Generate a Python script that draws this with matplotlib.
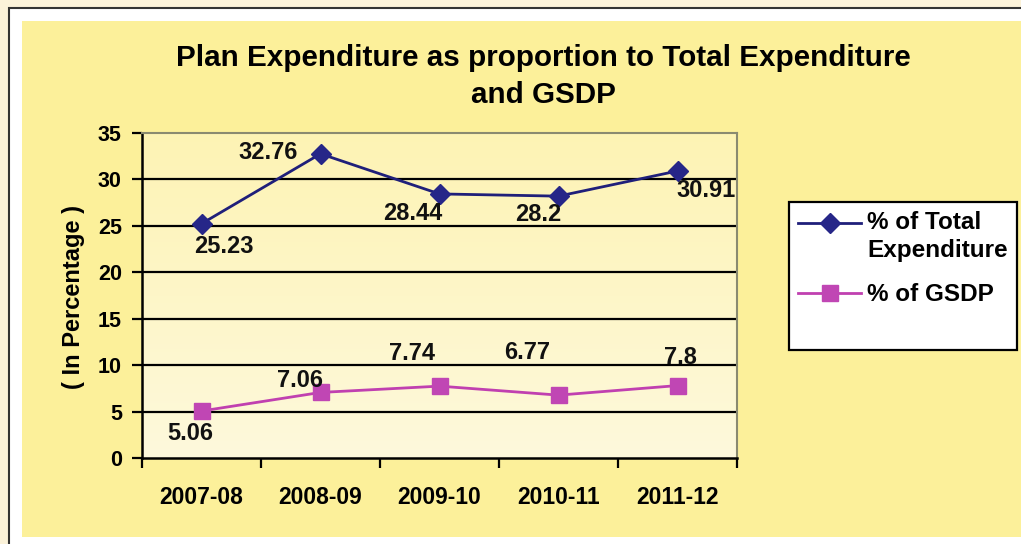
import numpy as np
import matplotlib.pyplot as plt
from matplotlib.patches import Rectangle
from matplotlib.colors import LinearSegmentedColormap
from matplotlib.transforms import Affine2D

plt.rcParams['font.family'] = ['Liberation Sans', 'DejaVu Sans']
plt.rcParams['font.weight'] = 'bold'

years = ["2007-08", "2008-09", "2009-10", "2010-11", "2011-12"]
total_exp = [25.23, 32.76, 28.44, 28.2, 30.91]
gsdp = [5.06, 7.06, 7.74, 6.77, 7.8]
total_labels = ["25.23", "32.76", "28.44", "28.2", "30.91"]
gsdp_labels = ["5.06", "7.06", "7.74", "6.77", "7.8"]

# label offsets in pixels, relative to each point
total_off = [(22, -23), (-52, 1), (-27, -20), (-20, -18), (29, -20)]
gsdp_off = [(-11, -22), (-20, 12), (-27, 33), (-31, 43), (3, 28)]

W, H = 1021, 544
fig = plt.figure(figsize=(W / 100, H / 100), dpi=100)
fig.patch.set_facecolor("#fbf2d9")

# white frame and yellow chart area
fig.patches.append(Rectangle((9 / W, -0.05), 1.1, 1 - 8 / H + 0.05, transform=fig.transFigure,
                             facecolor="white", edgecolor="#333333", linewidth=1.5, zorder=-10))
fig.patches.append(Rectangle((22 / W, 1 - 537 / H), 1.0, (537 - 21) / H, transform=fig.transFigure,
                             facecolor="#fcf09a", edgecolor="none", zorder=-9))
# legend box
fig.patches.append(Rectangle((789 / W, 1 - 350 / H), (1017 - 789) / W, (350 - 202) / H,
                             transform=fig.transFigure, facecolor="white", edgecolor="black",
                             linewidth=1.6, zorder=-5))

ax = fig.add_axes([142 / W, 1 - 458 / H, (737 - 142) / W, (458 - 133) / H])
ax.set_zorder(1)
grad = np.linspace(0, 1, 256).reshape(-1, 1)
cmap = LinearSegmentedColormap.from_list("bg", ["#fef9dc", "#fdf3b4"])
ax.imshow(grad, extent=[-0.5, 4.5, 0, 35], origin="lower", aspect="auto", cmap=cmap, zorder=0)

x = np.arange(len(years))
for v in range(5, 35, 5):
    ax.axhline(v, color="black", linewidth=1.6, zorder=1)

ax.plot(x, total_exp, color="#1f1f7a", linewidth=2, marker="D", markersize=10,
        markerfacecolor="#262688", markeredgecolor="#262688", zorder=3, label="% of Total\nExpenditure")
ax.plot(x, gsdp, color="#c040b0", linewidth=2, marker="s", markersize=12,
        markerfacecolor="#c046b4", markeredgecolor="#c046b4", zorder=3, label="% of GSDP")

for xi, v, lab, off in zip(x, total_exp, total_labels, total_off):
    ax.annotate(lab, (xi, v), xytext=off, textcoords="offset pixels", ha="center", va="center",
                fontsize=17, fontweight="bold", color="#111111", zorder=4)
for xi, v, lab, off in zip(x, gsdp, gsdp_labels, gsdp_off):
    ax.annotate(lab, (xi, v), xytext=off, textcoords="offset pixels", ha="center", va="center",
                fontsize=17, fontweight="bold", color="#111111", zorder=4)

ax.set_xlim(-0.5, 4.5)
ax.set_ylim(0, 35)
ax.set_yticks(range(0, 36, 5))
ax.set_xticks(x)
ax.set_xticklabels(years)
ax.set_xticks(np.arange(-0.5, 5, 1), minor=True)
ax.tick_params(axis="x", which="major", length=0, pad=20, labelsize=16.5)
ax.tick_params(axis="x", which="minor", length=7, width=1.6, direction="out", color="black")
ax.tick_params(axis="y", length=7, width=1.6, direction="out", labelsize=15.5, pad=7.5)
for lab in ax.get_xticklabels() + ax.get_yticklabels():
    lab.set_fontweight("bold")

ax.spines["left"].set_linewidth(1.8)
ax.spines["bottom"].set_linewidth(1.8)
ax.spines["top"].set_color("#8a8a70")
ax.spines["right"].set_color("#8a8a70")
ax.spines["top"].set_linewidth(1.5)
ax.spines["right"].set_linewidth(1.5)

fig.text(73 / W, 1 - 297 / H, "( In Percentage )", rotation=90, ha="center", va="center",
         fontsize=17, fontweight="bold")

fig.text(543 / W, 1 - 58 / H, "Plan Expenditure as proportion to Total Expenditure",
         ha="center", va="center", fontsize=21.3, fontweight="bold")
fig.text(543 / W, 1 - 95 / H, "and GSDP", ha="center", va="center", fontsize=21.3, fontweight="bold")

leg = fig.legend(loc="upper left", bbox_to_anchor=(798 / W, 1 - 211 / H), fontsize=17.5,
                 frameon=False, handlelength=2.6, handletextpad=0.25, borderpad=0,
                 labelspacing=0.9, borderaxespad=0)
for t in leg.get_texts():
    t.set_fontweight("bold")
    t.set_linespacing(1.25)

# the first handle sits on the first text line, as in the original
h = leg.legend_handles[0]
h.set_transform(h.get_transform() + Affine2D().translate(0, 14))

fig.savefig("out.png", dpi=100, facecolor=fig.get_facecolor())
